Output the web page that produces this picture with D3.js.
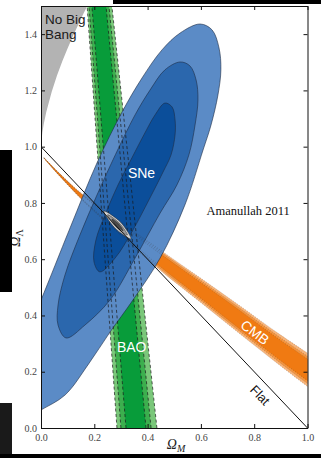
<!DOCTYPE html>
<html>
<head>
<meta charset="utf-8">
<script src="https://cdn.jsdelivr.net/npm/d3@7"></script>
<style>
  body { margin: 0; background: #fff; }
  svg { display: block; }
</style>
</head>
<body>
<svg id="chart"></svg>
<script>
// Omega_M vs Omega_Lambda constraints (SNe / BAO / CMB)

var xTicks = [0, 0.2, 0.4, 0.6, 0.8, 1.0];
var yTicks = [0, 0.2, 0.4, 0.6, 0.8, 1.0, 1.2, 1.4];

// "no big bang" boundary
var noBangOm = [0, 0.005, 0.01, 0.02, 0.04, 0.06, 0.08, 0.10, 0.12, 0.14, 0.16, 0.174];
var noBangOl = [1.0, 1.05, 1.079, 1.124, 1.194, 1.253, 1.304, 1.35, 1.393, 1.434, 1.474, 1.5];

// BAO band edges (Omega_M) at Omega_L = 0 and 1.5
var baoOl = [0, 1.5];
var bao99Lo = [0.285, 0.173], bao99Hi = [0.435, 0.266];
var bao95Lo = [0.300, 0.180], bao95Hi = [0.413, 0.255];
var bao68Lo = [0.319, 0.191], bao68Hi = [0.394, 0.244];

// CMB band: centre and half widths (Omega_L)
var cmbOm = [0.011, 0.071, 0.158, 0.296, 0.447, 0.597, 0.747, 0.897, 1.01];
var cmbOl = [0.960, 0.899, 0.818, 0.711, 0.597, 0.491, 0.384, 0.277, 0.200];
var cmb99 = [0.001, 0.005, 0.011, 0.023, 0.036, 0.043, 0.050, 0.055, 0.060];
var cmb95 = [0.001, 0.004, 0.009, 0.019, 0.030, 0.035, 0.041, 0.045, 0.049];
var cmb68 = [0.0006, 0.003, 0.007, 0.015, 0.023, 0.028, 0.033, 0.036, 0.039];

// SNe contours [Omega_M, Omega_L]
var sne99 = [[0.597,1.436],[0.642,1.415],[0.668,1.351],[0.675,1.273],[0.664,1.184],[0.638,1.077],
  [0.608,0.988],[0.540,0.793],[0.447,0.604],[0.345,0.455],[0.259,0.341],[0.176,0.224],[0.090,0.117],
  [0.0,0.064],[-0.079,0.021],[-0.135,0.064],[-0.116,0.188],[-0.049,0.348],[0.0,0.455],[0.109,0.711],
  [0.210,0.942],[0.304,1.123],[0.379,1.244],[0.454,1.344],[0.522,1.404]];
var sne95 = [[0.522,1.301],[0.559,1.287],[0.582,1.237],[0.589,1.166],[0.578,1.077],[0.555,0.971],
  [0.510,0.864],[0.447,0.764],[0.353,0.604],[0.259,0.455],[0.165,0.366],[0.094,0.320],[0.064,0.366],
  [0.064,0.437],[0.090,0.544],[0.146,0.686],[0.210,0.828],[0.270,0.953],[0.353,1.113],[0.409,1.201],
  [0.465,1.273]];
var sne68 = [[0.465,1.155],[0.492,1.141],[0.503,1.095],[0.503,1.042],[0.488,0.971],[0.458,0.910],
  [0.409,0.818],[0.341,0.697],[0.278,0.604],[0.221,0.555],[0.199,0.590],[0.206,0.668],[0.240,0.757],
  [0.289,0.864],[0.341,0.960],[0.390,1.049],[0.428,1.113]];

// combined contours
var all99 = [[0.236,0.771],[0.298,0.732],[0.338,0.672],[0.276,0.712]];
var all95 = [[0.250,0.758],[0.294,0.728],[0.324,0.686],[0.280,0.716]];
var all68 = [[0.266,0.743],[0.291,0.726],[0.308,0.701],[0.283,0.718]];

var svgWidth = 321, svgHeight = 458;
var svg = d3.select('#chart')
    .attr('width', svgWidth)
    .attr('height', svgHeight);

var x = d3.scaleLinear().domain([0, 1]).range([41, 307.5]);
var y = d3.scaleLinear().domain([0, 1.5]).range([428, 6]);

svg.append('defs').append('clipPath').attr('id', 'plot')
    .append('rect')
    .attr('x', x(0)).attr('y', y(1.5))
    .attr('width', x(1) - x(0)).attr('height', y(0) - y(1.5));

var g = svg.append('g').attr('clip-path', 'url(#plot)');

// no big bang
var nb = noBangOm.map(function (d, i) { return [d, noBangOl[i]]; });
nb.push([0, 1.5]);
g.append('path')
    .datum(nb)
    .attr('fill', '#b3b3b3')
    .attr('d', d3.line().x(d => x(d[0])).y(d => y(d[1])));

// BAO
var baoArea = d3.area().y(d => y(d.l)).x0(d => x(d.a)).x1(d => x(d.b));
var baoEdge = d3.line().y(d => y(d.l)).x(d => x(d.v));
var baoLevels = [
    { lo: bao99Lo, hi: bao99Hi, color: '#7ac77a' },
    { lo: bao95Lo, hi: bao95Hi, color: '#3caf4e' },
    { lo: bao68Lo, hi: bao68Hi, color: '#089c3a' }
];
baoLevels.forEach(function (lv) {
    var pts = baoOl.map(function (l, i) { return { l: l, a: lv.lo[i], b: lv.hi[i] }; });
    g.append('path').datum(pts).attr('fill', lv.color).attr('d', baoArea);
});

// CMB
var cmbLevels = [
    { w: cmb99, color: '#f7b47a' },
    { w: cmb95, color: '#f4953f' },
    { w: cmb68, color: '#f07a12' }
];
var cmbArea = d3.area().curve(d3.curveCatmullRom)
    .x(d => x(d.m)).y0(d => y(d.c - d.w)).y1(d => y(d.c + d.w));
cmbLevels.forEach(function (lv) {
    var pts = cmbOm.map(function (m, i) { return { m: m, c: cmbOl[i], w: lv.w[i] }; });
    g.append('path').datum(pts).attr('fill', lv.color).attr('d', cmbArea);
});

// SNe
var contourLine = d3.line().curve(d3.curveCatmullRomClosed).x(d => x(d[0])).y(d => y(d[1]));
[[sne99, '#5b8bc6'], [sne95, '#2b67ad'], [sne68, '#0b4e9a']].forEach(function (c) {
    g.append('path').datum(c[0])
        .attr('fill', c[1])
        .attr('stroke', '#1c2b44')
        .attr('stroke-width', 0.6)
        .attr('d', contourLine);
});

// BAO contour edges, dashed
baoLevels.forEach(function (lv) {
    [lv.lo, lv.hi].forEach(function (e) {
        var pts = baoOl.map(function (l, i) { return { l: l, v: e[i] }; });
        g.append('path').datum(pts)
            .attr('fill', 'none')
            .attr('stroke', '#1a1a1a')
            .attr('stroke-width', 0.7)
            .attr('stroke-dasharray', '3,2.5')
            .attr('d', baoEdge);
    });
});

// CMB contour edges, dotted
var cmbEdge = d3.line().curve(d3.curveCatmullRom).x(d => x(d.m)).y(d => y(d.v));
cmbLevels.forEach(function (lv) {
    [-1, 1].forEach(function (s) {
        var pts = cmbOm.map(function (m, i) { return { m: m, v: cmbOl[i] + s * lv.w[i] }; });
        g.append('path').datum(pts)
            .attr('fill', 'none')
            .attr('stroke', '#3a2a20')
            .attr('stroke-opacity', 0.5)
            .attr('stroke-width', 0.5)
            .attr('stroke-dasharray', '1,1.5')
            .attr('d', cmbEdge);
    });
});

// combined
[[all99, '#d2d2d2'], [all95, '#9b9b9b'], [all68, '#4a4a4a']].forEach(function (c) {
    g.append('path').datum(c[0])
        .attr('fill', c[1])
        .attr('stroke', '#222')
        .attr('stroke-width', 0.5)
        .attr('d', contourLine);
});

// flat universe
g.append('line')
    .attr('x1', x(0)).attr('y1', y(1))
    .attr('x2', x(1)).attr('y2', y(0))
    .attr('stroke', '#111')
    .attr('stroke-width', 1);

// labels
var sans = 'Liberation Sans, Arial, sans-serif';
var nbText = g.append('text')
    .attr('font-family', sans).attr('font-size', 13.5).attr('fill', '#1a1a1a');
nbText.append('tspan').attr('x', x(0) + 4).attr('y', 24).text('No Big');
nbText.append('tspan').attr('x', x(0) + 4).attr('y', 39).text('Bang');

g.append('text')
    .attr('x', x(0.326)).attr('y', y(0.89))
    .attr('font-family', sans).attr('font-size', 14).attr('fill', '#fff')
    .text('SNe');

g.append('text')
    .attr('x', x(0.285)).attr('y', y(0.27))
    .attr('font-family', sans).attr('font-size', 14).attr('fill', '#fff')
    .text('BAO');

g.append('text')
    .attr('transform', 'translate(' + x(0.803) + ',' + y(0.34) + ') rotate(37)')
    .attr('text-anchor', 'middle').attr('dy', '0.35em')
    .attr('font-family', sans).attr('font-size', 14).attr('fill', '#fff')
    .text('CMB');

g.append('text')
    .attr('transform', 'translate(' + x(0.822) + ',' + y(0.117) + ') rotate(46)')
    .attr('text-anchor', 'middle').attr('dy', '0.35em')
    .attr('font-family', sans).attr('font-size', 13).attr('fill', '#111')
    .text('Flat');

g.append('text')
    .attr('x', x(0.777)).attr('y', y(0.757))
    .attr('text-anchor', 'middle')
    .attr('font-family', 'Liberation Serif, Times New Roman, serif')
    .attr('font-size', 12.5).attr('fill', '#111')
    .text('Amanullah 2011');

// axes
var fmt = d3.format('.1f');
var axisStyle = function (sel) {
    sel.selectAll('text')
        .attr('font-family', 'Liberation Serif, serif')
        .attr('font-size', 10)
        .attr('fill', '#444');
    sel.selectAll('line').attr('stroke', '#111');
    sel.select('.domain').attr('stroke', '#111');
};

svg.append('g')
    .attr('transform', 'translate(0,' + y(0) + ')')
    .call(d3.axisBottom(x).tickValues(xTicks).tickFormat(fmt)
        .tickSizeInner(-4).tickSizeOuter(0).tickPadding(6))
    .call(axisStyle);

svg.append('g')
    .attr('transform', 'translate(' + x(0) + ',0)')
    .call(d3.axisLeft(y).tickValues(yTicks).tickFormat(fmt)
        .tickSizeInner(-4).tickSizeOuter(0).tickPadding(4))
    .call(axisStyle);

svg.append('g')
    .attr('transform', 'translate(0,' + y(1.5) + ')')
    .call(d3.axisTop(x).tickValues(xTicks).tickFormat('')
        .tickSizeInner(-4).tickSizeOuter(0))
    .call(axisStyle);

svg.append('g')
    .attr('transform', 'translate(' + x(1) + ',0)')
    .call(d3.axisRight(y).tickValues(yTicks).tickFormat('')
        .tickSizeInner(-4).tickSizeOuter(0))
    .call(axisStyle);

svg.selectAll('.domain').attr('stroke-width', 1);

// axis titles
var xl = svg.append('text')
    .attr('x', 176).attr('y', 449)
    .attr('text-anchor', 'middle')
    .attr('font-family', 'Liberation Serif, serif')
    .attr('font-size', 14).attr('fill', '#222');
xl.append('tspan').attr('font-style', 'italic').text('Ω');
xl.append('tspan').attr('font-style', 'italic').attr('font-size', 10).attr('dy', 3).text('M');

var yl = svg.append('text')
    .attr('transform', 'translate(20,238) rotate(-90)')
    .attr('text-anchor', 'middle')
    .attr('font-family', 'Liberation Serif, serif')
    .attr('font-size', 14).attr('fill', '#222');
yl.append('tspan').attr('font-style', 'italic').text('Ω');
yl.append('tspan').attr('font-size', 10).attr('dy', 3).text('Λ');

// screenshot borders
svg.append('rect').attr('x', 113).attr('y', 0).attr('width', 208).attr('height', 4).attr('fill', '#000');
svg.append('rect').attr('x', 0).attr('y', 150).attr('width', 12).attr('height', 142).attr('fill', '#000');
svg.append('rect').attr('x', 0).attr('y', 403).attr('width', 12).attr('height', 55).attr('fill', '#1a1a1a');
svg.append('rect').attr('x', 0).attr('y', 454).attr('width', 321).attr('height', 4).attr('fill', '#000');
</script>
</body>
</html>
